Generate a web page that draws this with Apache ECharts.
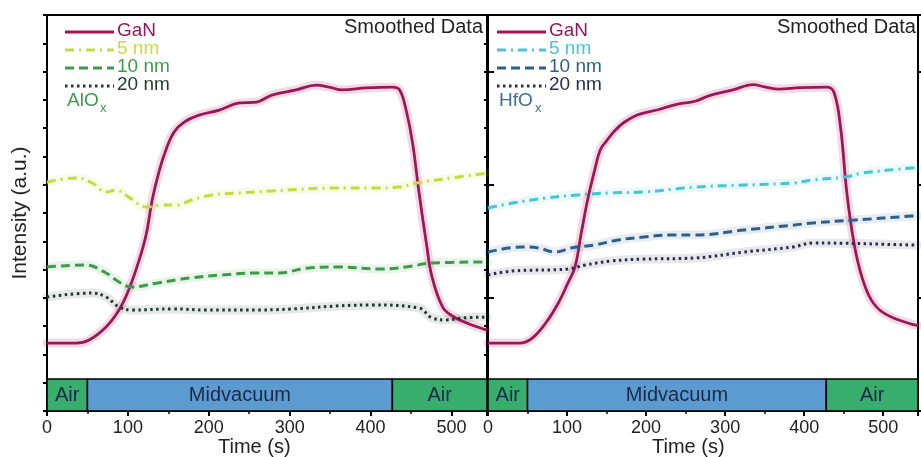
<!DOCTYPE html>
<html>
<head>
<meta charset="utf-8">
<script src="https://cdn.jsdelivr.net/npm/echarts@6/dist/echarts.min.js"></script>
<style>
  html, body { margin: 0; padding: 0; background: #fff; }
  #chart { width: 921px; height: 457px; }
</style>
</head>
<body>
<div id="chart"></div>
<script>
// Time-resolved intensity, [time (s), intensity (a.u.)]
const alGaN = [[0,24.0],[36,24.0],[52,25.1],[73,29.7],[89,35.7],[101,42.8],[114,53.4],[123,62.9],[130,74.6],[139,85.2],[147,92.3],[157,98.6],[170,102.2],[188,104.6],[213,106.4],[238,108.9],[259,109.2],[278,111.7],[308,113.5],[333,115.2],[349,114.5],[365,113.5],[395,114.2],[427,114.5],[436,113.5],[444,106.4],[452,94.7],[460,77.1],[469,59.4],[476,47.4],[489,36.8],[501,33.6],[519,31.1],[544,28.6]];
const al5nm = [[0,80.9],[36,82.4],[56,80.6],[73,77.4],[85,78.1],[101,75.6],[123,72.1],[142,72.8],[160,72.8],[179,74.6],[204,76.4],[238,77.1],[278,77.8],[353,78.8],[402,78.8],[436,79.2],[457,80.6],[501,82.4],[544,84.1]];
const al10nm = [[0,50.9],[48,51.6],[73,48.8],[89,45.6],[105,43.8],[135,45.2],[176,47.0],[217,48.1],[259,48.8],[287,48.8],[321,50.5],[361,50.9],[411,50.2],[444,50.9],[476,52.3],[544,52.7]];
const al20nm = [[0,40.3],[56,41.7],[73,40.3],[89,36.8],[105,35.7],[155,36.1],[197,35.7],[259,35.7],[402,37.5],[460,36.4],[476,32.9],[494,32.2],[514,32.9],[544,33.2]];

const hfGaN = [[0,24.0],[40,24.0],[56,25.8],[73,31.1],[89,38.2],[101,45.2],[110,50.9],[118,62.9],[126,74.6],[135,85.2],[142,92.3],[150,95.5],[160,99.0],[172,102.0],[190,104.8],[215,106.5],[240,108.5],[262,109.5],[280,111.5],[310,113.5],[335,115.4],[350,114.6],[368,113.8],[395,114.3],[429,114.5],[438,112.4],[446,100.4],[454,77.1],[463,59.4],[473,47.4],[485,39.2],[501,34.6],[531,31.1],[544,30.2]];
const hf5nm = [[0,71.8],[31,73.5],[73,75.3],[114,76.4],[155,77.1],[197,77.4],[238,78.5],[262,79.2],[324,79.9],[386,80.6],[411,81.7],[452,82.7],[473,84.1],[535,85.9],[544,86.0]];
const hf10nm = [[0,56.2],[43,58.0],[64,57.6],[85,56.2],[105,57.6],[135,58.7],[163,60.4],[197,61.5],[229,62.2],[262,62.2],[324,64.0],[386,65.7],[411,66.5],[464,67.5],[535,68.9],[544,69.0]];
const hf20nm = [[0,48.1],[31,49.5],[101,50.2],[123,51.6],[155,53.0],[197,53.7],[262,54.1],[324,56.2],[386,58.0],[411,59.4],[535,58.7],[544,58.6]];

// Gas environment phases: [start (s), end (s), label]
const alPhases = [[0, 50, 'Air'], [50, 427, 'Midvacuum'], [427, 544, 'Air']];
const hfPhases = [[0, 50, 'Air'], [50, 428, 'Midvacuum'], [428, 544, 'Air']];

const xTicks = ['0', '100', '200', '300', '400', '500'];
const legendLabels = ['GaN', '5 nm', '10 nm', '20 nm'];

const X_MAX = 544;
const Y_MAX = 140;
const STRIP_TOP = 11.3;
const FONT = 'Liberation Sans, Arial, sans-serif';

const AIR = '#38ae6c';
const VAC = '#5c9bcf';
const PHASE_TEXT = '#1a2a4a';

const alColors = ['#9e1656', '#c6dc3c', '#3b9d49', '#1f3a2b'];
const hfColors = ['#9e1656', '#46c5d6', '#2e5f8c', '#2a2c4e'];
const dashes = ['solid', [9, 5, 2, 5], [9, 5], [2.5, 3.5]];
const widths = [2.8, 3, 3, 3];

function phaseArea(phases) {
  return phases.map(p => [
    { xAxis: p[0], yAxis: 0, name: p[2],
      itemStyle: { color: p[2] === 'Air' ? AIR : VAC } },
    { xAxis: p[1], yAxis: STRIP_TOP }
  ]);
}

function panelSeries(sets, colors, gridIdx, phases) {
  const out = [];
  // faint uncertainty bands under each trace
  sets.forEach((d, i) => {
    out.push({
      type: 'line', xAxisIndex: gridIdx, yAxisIndex: gridIdx * 2,
      data: d, smooth: 0.4, symbol: 'none', silent: true, z: 2,
      lineStyle: { color: colors[i], width: 9, opacity: i === 0 ? 0.15 : 0.11, cap: 'round' }
    });
  });
  sets.forEach((d, i) => {
    const s = {
      type: 'line', xAxisIndex: gridIdx, yAxisIndex: gridIdx * 2,
      data: d, smooth: 0.4, symbol: 'none', z: 3,
      lineStyle: { color: colors[i], width: widths[i], type: dashes[i] }
    };
    if (i === 0) {
      s.markArea = {
        silent: true,
        itemStyle: { borderColor: '#000', borderWidth: 1.5 },
        label: { show: true, position: 'inside', color: PHASE_TEXT, fontSize: 20, fontFamily: FONT },
        data: phaseArea(phases)
      };
    }
    out.push(s);
  });
  return out;
}

function xAxisFor(gridIdx) {
  return {
    type: 'value', gridIndex: gridIdx, min: 0, max: X_MAX, interval: 100,
    axisLine: { show: true, lineStyle: { color: '#000', width: 2 } },
    axisTick: { show: true, length: 5, lineStyle: { color: '#000', width: 2 } },
    minorTick: { show: true, splitNumber: 2, length: 3, lineStyle: { color: '#000', width: 1.5 } },
    splitLine: { show: false },
    axisLabel: {
      color: '#222', fontSize: 18, fontFamily: FONT, margin: 8,
      formatter: v => xTicks[v / 100] !== undefined ? xTicks[v / 100] : ''
    }
  };
}

function yAxesFor(gridIdx, withName) {
  return [{
    type: 'value', gridIndex: gridIdx, min: 0, max: Y_MAX, interval: 10,
    name: withName ? 'Intensity (a.u.)' : '', nameLocation: 'middle', nameGap: 16,
    nameTextStyle: { color: '#222', fontSize: 21, fontFamily: FONT },
    axisLine: { show: true, lineStyle: { color: '#000', width: 2 } },
    axisTick: { show: true, length: 4, lineStyle: { color: '#000', width: 2 } },
    axisLabel: { show: false }, splitLine: { show: false }
  }, {
    type: 'value', gridIndex: gridIdx, min: 0, max: Y_MAX, interval: 40,
    axisLine: { show: false },
    axisTick: { show: true, length: 7, lineStyle: { color: '#000', width: 2 } },
    axisLabel: { show: false }, splitLine: { show: false }
  }];
}

function legendGraphics(x0, colors, material, matColor) {
  const g = [];
  legendLabels.forEach((t, i) => {
    const y = 32 + i * 18;
    g.push({
      type: 'line', z: 10,
      shape: { x1: x0, y1: y, x2: x0 + 49, y2: y },
      style: { stroke: colors[i], lineWidth: widths[i],
               lineDash: Array.isArray(dashes[i]) ? dashes[i] : null }
    });
    g.push({
      type: 'text', z: 10, left: x0 + 52, top: y - 11,
      style: { text: t, fill: colors[i], font: '19px ' + FONT }
    });
  });
  g.push({ type: 'text', z: 10, left: x0 + 2, top: 91,
           style: { text: material, fill: matColor, font: '19px ' + FONT } });
  return g;
}

const chart = echarts.init(document.getElementById('chart'), null, { renderer: 'canvas' });

const option = {
  animation: false,
  backgroundColor: '#fff',
  grid: [
    { left: 47, top: 15, width: 440, bottom: 46, show: true, borderColor: '#000', borderWidth: 2, backgroundColor: 'transparent' },
    { left: 488, top: 15, width: 440, bottom: 46, show: true, borderColor: '#000', borderWidth: 2, backgroundColor: 'transparent' }
  ],
  xAxis: [xAxisFor(0), xAxisFor(1)],
  yAxis: yAxesFor(0, true).concat(yAxesFor(1, false)),
  series: panelSeries([alGaN, al5nm, al10nm, al20nm], alColors, 0, alPhases)
    .concat(panelSeries([hfGaN, hf5nm, hf10nm, hf20nm], hfColors, 1, hfPhases)),
  graphic: [
    ...legendGraphics(65, alColors, 'AlO', alColors[2]),
    { type: 'text', z: 10, left: 100, top: 102, style: { text: 'x', fill: alColors[2], font: '13px ' + FONT } },
    ...legendGraphics(497, hfColors, 'HfO', '#3f6e98'),
    { type: 'text', z: 10, left: 535, top: 102, style: { text: 'x', fill: '#3f6e98', font: '13px ' + FONT } },
    { type: 'text', z: 10, right: 921 - 483, top: 17, style: { text: 'Smoothed Data', fill: '#222', font: '20px ' + FONT, textAlign: 'right' } },
    { type: 'text', z: 10, left: 777, top: 17, style: { text: 'Smoothed Data', fill: '#222', font: '20px ' + FONT } },
    { type: 'text', z: 10, left: 218, top: 437, style: { text: 'Time (s)', fill: '#222', font: '20px ' + FONT } },
    { type: 'text', z: 10, left: 652, top: 437, style: { text: 'Time (s)', fill: '#222', font: '20px ' + FONT } }
  ]
};

chart.setOption(option);
</script>
</body>
</html>
